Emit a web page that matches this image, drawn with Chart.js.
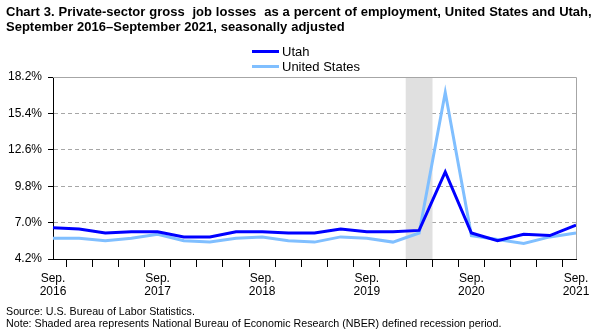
<!DOCTYPE html>
<html>
<head>
<meta charset="utf-8">
<script src="https://cdn.jsdelivr.net/npm/chart.js@4/dist/chart.umd.min.js"></script>
<style>
  html, body { margin: 0; padding: 0; background: #fff; }
  body { width: 603px; height: 333px; position: relative; overflow: hidden; font-family: "Liberation Sans", Arial, sans-serif; color: #000; }
  #wrap { position: absolute; left: 0; top: 0; width: 603px; height: 333px; }
  .title { position: absolute; left: 6px; top: 4px; font-size: 13px; font-weight: bold; line-height: 15px; white-space: pre; word-spacing: 0.3px; }
  .legend { position: absolute; left: 252px; top: 44px; font-size: 13px; line-height: 15px; }
  .legend div { display: flex; align-items: center; height: 15px; }
  .legend span.sw { display: inline-block; width: 27px; height: 3px; margin-right: 3px; }
  .note { position: absolute; left: 6px; font-size: 10.7px; line-height: 13px; white-space: pre; }
</style>
</head>
<body>
<div id="wrap"><canvas id="chart"></canvas></div>
<div class="title">Chart 3. Private-sector gross  job losses  as a percent of employment, United States and Utah,
September 2016–September 2021, seasonally adjusted</div>
<div class="legend">
  <div><span class="sw" style="background:#0000ff"></span>Utah</div>
  <div><span class="sw" style="background:#80bfff"></span>United States</div>
</div>
<div class="note" style="top:305px">Source: U.S. Bureau of Labor Statistics.</div>
<div class="note" style="top:317px">Note: Shaded area represents National Bureau of Economic Research (NBER) defined recession period.</div>
<script>
// Data
const quarters = [
  "Sep. 2016", "Dec. 2016", "Mar. 2017", "Jun. 2017",
  "Sep. 2017", "Dec. 2017", "Mar. 2018", "Jun. 2018",
  "Sep. 2018", "Dec. 2018", "Mar. 2019", "Jun. 2019",
  "Sep. 2019", "Dec. 2019", "Mar. 2020", "Jun. 2020",
  "Sep. 2020", "Dec. 2020", "Mar. 2021", "Jun. 2021",
  "Sep. 2021"
];
const utahValues = [
  6.6, 6.5, 6.2, 6.3, 6.3, 5.9, 5.9, 6.3, 6.3, 6.2, 6.2,
  6.5, 6.3, 6.3, 6.4, 10.9, 6.2, 5.6, 6.1, 6.0, 6.8
];
const usValues = [
  5.8, 5.8, 5.6, 5.8, 6.1, 5.6, 5.5, 5.8, 5.9, 5.6, 5.5,
  5.9, 5.8, 5.5, 6.2, 17.0, 6.0, 5.7, 5.4, 5.9, 6.2
];
// recession quarter shading (NBER)
const recession = [
  null, null, null, null, null, null, null, null, null, null, null,
  null, null, null, 18.2, null, null, null, null, null, null
];
const yTicks = [4.2, 7.0, 9.8, 12.6, 15.4, 18.2];

// Frame lines on top and right of the plot
const framePlugin = {
  id: "frame",
  afterDatasetsDraw(chart) {
    const { ctx, chartArea } = chart;
    ctx.save();
    ctx.strokeStyle = "#a6a6a6";
    ctx.lineWidth = 1;
    ctx.beginPath();
    ctx.moveTo(chartArea.left, chartArea.top + 0.5);
    ctx.lineTo(chartArea.right + 0.5, chartArea.top + 0.5);
    ctx.lineTo(chartArea.right + 0.5, chartArea.bottom);
    ctx.stroke();
    ctx.restore();
  },
};

const ctx = document.getElementById("chart").getContext("2d");
new Chart(ctx, {
  type: "line",
  data: {
    labels: quarters,
    datasets: [
      {
        label: "Utah",
        data: utahValues,
        borderColor: "#0000ff",
        borderWidth: 3,
        pointRadius: 0,
        tension: 0,
        order: 1,
      },
      {
        label: "United States",
        data: usValues,
        borderColor: "#80bfff",
        borderWidth: 3,
        pointRadius: 0,
        tension: 0,
        order: 2,
      },
      {
        type: "bar",
        label: "Recession",
        data: recession,
        backgroundColor: "#e0e0e0",
        barPercentage: 1,
        categoryPercentage: 1,
        order: 3,
      },
    ],
  },
  options: {
    responsive: true,
    maintainAspectRatio: false,
    animation: false,
    layout: { padding: { left: 0, right: 27, top: 77, bottom: 0 } },
    plugins: {
      legend: { display: false },
      title: { display: false },
      tooltip: { enabled: false },
    },
    scales: {
      x: {
        offset: false,
        grid: {
          drawOnChartArea: false,
          drawTicks: true,
          tickLength: 8,
          tickColor: "#000",
        },
        border: { color: "#000", width: 1 },
        ticks: {
          autoSkip: false,
          maxRotation: 0,
          padding: 5,
          color: "#000",
          font: { family: "'Liberation Sans', Arial", size: 12, lineHeight: 1.1 },
          callback: function (value, index) {
            const label = quarters[index];
            if (label.startsWith("Sep.")) return label.split(" ");
            return "";
          },
        },
        afterFit(scale) {
          scale.height = 74;
        },
      },
      y: {
        min: 4.2,
        max: 18.2,
        grid: {
          color: "#a6a6a6",
          tickColor: "#000",
          tickLength: 5,
          tickBorderDash: [],
        },
        border: { color: "#000", width: 1, dash: [4, 3] },
        ticks: {
          padding: 6,
          color: "#000",
          font: { family: "'Liberation Sans', Arial", size: 12 },
          callback: (value) => value.toFixed(1) + "%",
        },
        afterBuildTicks(scale) {
          scale.ticks = yTicks.map((v) => ({ value: v }));
        },
        afterFit(scale) {
          scale.width = 53;
        },
      },
    },
  },
  plugins: [framePlugin],
});
</script>
</body>
</html>
